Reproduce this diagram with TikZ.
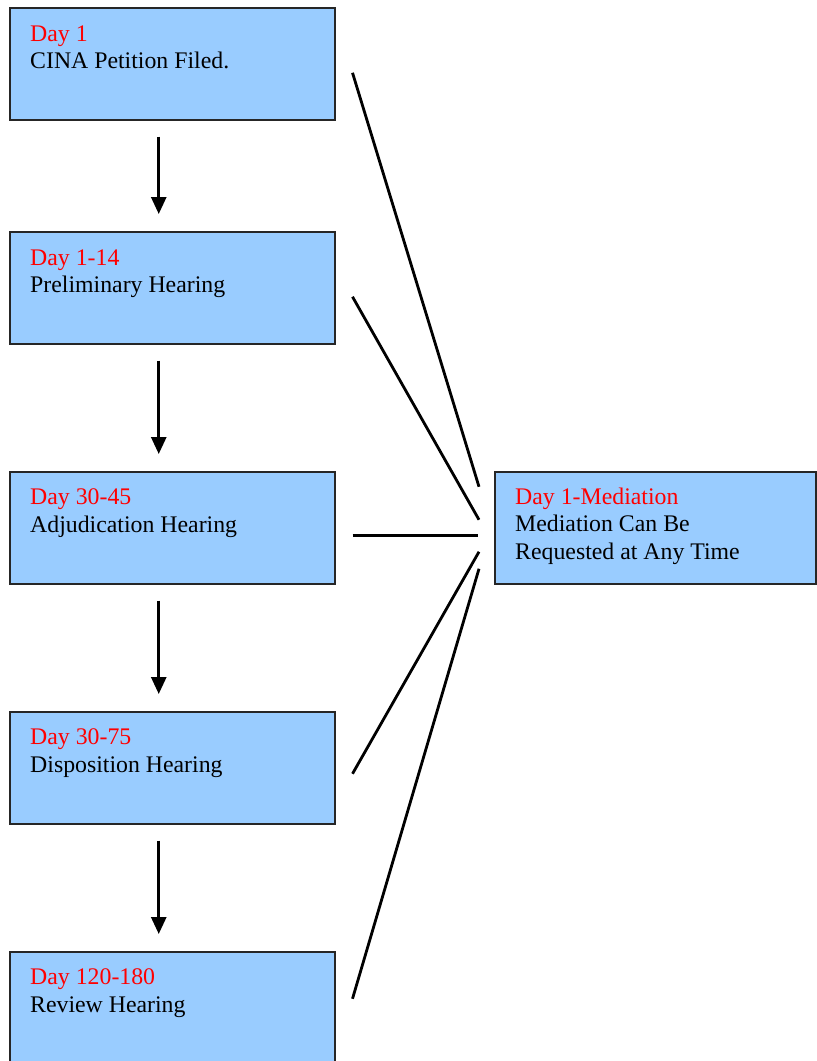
\documentclass[tikz,border=0pt]{standalone}
\usepackage{fontspec}
\setmainfont{Liberation Serif}
\usetikzlibrary{arrows.meta}
\definecolor{boxblue}{HTML}{99CCFF}
\definecolor{dayred}{HTML}{FF0000}
\begin{document}
\begin{tikzpicture}[x=1pt,y=-1pt,
  stage/.style={draw=black!85,line width=1.5pt,fill=boxblue,minimum width=325pt,minimum height=112pt,anchor=north west,inner sep=0pt},
  daytext/.style={anchor=base west,inner sep=0pt,text=dayred,font=\fontsize{23.8}{28}\selectfont},
  desctext/.style={anchor=base west,inner sep=0pt,font=\fontsize{23.8}{28}\selectfont},
  flow/.style={line width=2.8pt,-{Triangle[length=17pt,width=15pt]}},
  link/.style={line width=2.8pt}]
\useasboundingbox (0,0) rectangle (817,1061);
\fill[white] (0,0) rectangle (817,1061);

% stage boxes in the left column
\node[stage] (b1) at (9,7) {};
\node[stage] (b2) at (9,231) {};
\node[stage] (b3) at (9,471) {};
\node[stage] (b4) at (9,711) {};
\node[stage] (b5) at (9,951) {};
% mediation box on the right
\node[stage,minimum width=321pt] (m) at (494,471) {};

% box labels
\node[daytext] (d1) at (30,41) {Day 1};
\node[desctext] (t1) at (30,68) {CINA Petition Filed.};
\node[daytext] (d2) at (30,265) {Day 1-14};
\node[desctext] (t2) at (30,292) {Preliminary Hearing};
\node[daytext] (d3) at (30,504) {Day 30-45};
\node[desctext] (t3) at (30,532) {Adjudication Hearing};
\node[daytext] (d4) at (30,744) {Day 30-75};
\node[desctext] (t4) at (30,772) {Disposition Hearing};
\node[daytext] (d5) at (30,984) {Day 120-180};
\node[desctext] (t5) at (30,1012) {Review Hearing};
\node[daytext] (dm) at (515,504) {Day 1-Mediation};
\node[desctext] (tm1) at (515,531) {Mediation Can Be};
\node[desctext] (tm2) at (515,559) {Requested at Any Time};

% downward flow between stages
\draw[flow] ([xshift=-13.5pt,yshift=-16pt]b1.south) -- ([xshift=-13.5pt,yshift=17pt]b2.north);
\draw[flow] ([xshift=-13.5pt,yshift=-16pt]b2.south) -- ([xshift=-13.5pt,yshift=17pt]b3.north);
\draw[flow] ([xshift=-13.5pt,yshift=-16pt]b3.south) -- ([xshift=-13.5pt,yshift=17pt]b4.north);
\draw[flow] ([xshift=-13.5pt,yshift=-16pt]b4.south) -- ([xshift=-13.5pt,yshift=17pt]b5.north);

% links from each stage to mediation
\draw[link] ([xshift=17pt,yshift=-9pt]b1.east) -- ([xshift=-15pt,yshift=41pt]m.west);
\draw[link] ([xshift=17pt,yshift=-9pt]b2.east) -- ([xshift=-15pt,yshift=8pt]m.west);
\draw[link] ([xshift=17pt,yshift=-8pt]b3.east) -- ([xshift=-16pt,yshift=-8pt]m.west);
\draw[link] ([xshift=17pt,yshift=-6pt]b4.east) -- ([xshift=-15pt,yshift=-24pt]m.west);
\draw[link] ([xshift=17pt,yshift=9pt]b5.east) -- ([xshift=-15pt,yshift=-41pt]m.west);
\end{tikzpicture}
\end{document}
